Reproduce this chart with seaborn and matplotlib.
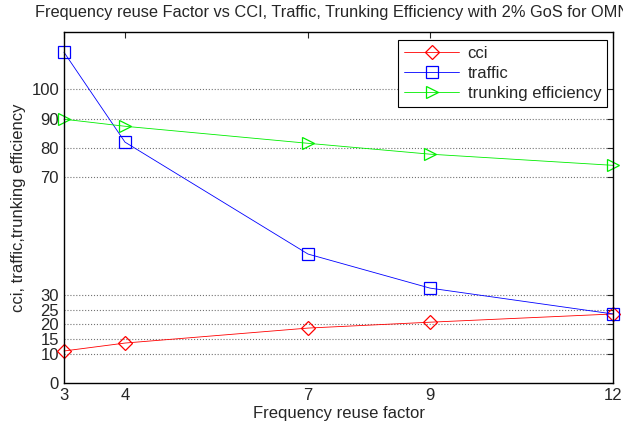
import matplotlib
matplotlib.use("Agg")
import matplotlib.pyplot as plt
import seaborn as sns
import pandas as pd

reuse = [3, 4, 7, 9, 12]
cci = [10.9, 13.6, 18.7, 20.7, 23.5]
traffic = [112.6, 82.0, 43.9, 32.3, 23.5]
trunking = [89.8, 87.4, 81.6, 77.9, 74.1]
yticks = [0, 10, 15, 20, 25, 30, 70, 80, 90, 100]

sns.set_style("white")
plt.rcParams['font.family'] = ['Liberation Sans', 'DejaVu Sans']

fig = plt.figure(figsize=(6.23, 4.32), dpi=100)
ax = fig.add_axes([0.1027, 0.1134, 0.8813, 0.8126])

df = pd.DataFrame({"reuse": reuse, "cci": cci, "traffic": traffic,
                   "trunking efficiency": trunking})
specs = [("cci", "red", "D", 7), ("traffic", "blue", "s", 8),
         ("trunking efficiency", "#00ee00", ">", 9)]
for col, c, m, ms in specs:
    sns.lineplot(data=df, x="reuse", y=col, ax=ax, color=c, marker=m,
                 markersize=ms, markerfacecolor="none", markeredgecolor=c,
                 markeredgewidth=0.9, linewidth=0.6, label=col, clip_on=False)

ax.set_xlim(3, 12)
ax.set_ylim(0, 119.5)
ax.set_xticks(reuse)
ax.set_yticks(yticks)
ax.tick_params(direction="in", length=4, top=True, right=True, labelsize=12)
for y in yticks[1:]:
    ax.axhline(y, color="0.45", linestyle=":", linewidth=0.8, zorder=0)
for s in ax.spines.values():
    s.set_color("black")
    s.set_linewidth(1.0)
ax.set_xlabel("Frequency reuse factor", fontsize=12, labelpad=2)
ax.set_ylabel("cci, traffic,trunking efficiency", fontsize=12)
leg = ax.legend(loc="upper right", bbox_to_anchor=(0.989, 0.977), borderaxespad=0,
                fontsize=12, fancybox=False, framealpha=1, edgecolor="black",
                handlelength=3.3, borderpad=0.35, labelspacing=0.3, handletextpad=0.5)
leg.get_frame().set_linewidth(0.8)
fig.text(35 / 623, 1 - 13 / 432, "Frequency reuse Factor vs CCI, Traffic, Trunking Efficiency with 2% GoS for OMNI",
         ha="left", va="center", fontsize=11.8)

fig.savefig("out.png", dpi=100)
